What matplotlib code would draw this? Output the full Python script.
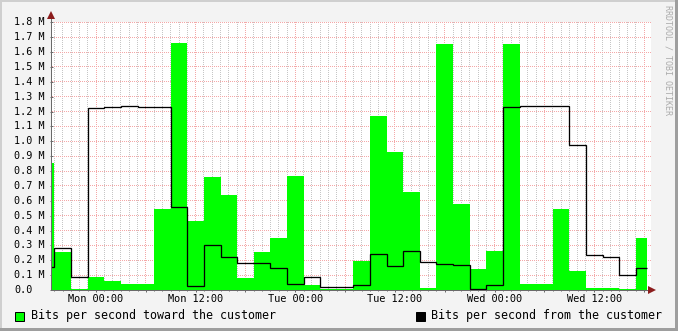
import numpy as np
import matplotlib
matplotlib.use("Agg")
import matplotlib.pyplot as plt
from matplotlib.patches import Rectangle
import matplotlib.transforms as mtransforms

# ---------------- data (hours relative to Mon 00:00, values in Mbit/s) ----------------
data_start_h = -5.455
first_full_bin_h = -5
bin_step_h = 2
data_end_h = 66.38

toward_customer = [0.856, 0.258, 0.006, 0.087, 0.061, 0.040, 0.040, 0.545, 1.661,
                   0.464, 0.760, 0.639, 0.081, 0.256, 0.350, 0.767, 0.034, 0.005,
                   0.005, 0.195, 1.170, 0.928, 0.659, 0.016, 1.654, 0.578, 0.141,
                   0.262, 1.654, 0.040, 0.040, 0.545, 0.128, 0.016, 0.016, 0.007,
                   0.350]
from_customer = [0.155, 0.280, 0.087, 1.222, 1.228, 1.235, 1.228, 1.228, 0.556,
                 0.027, 0.305, 0.220, 0.179, 0.179, 0.148, 0.038, 0.085, 0.018,
                 0.018, 0.031, 0.240, 0.159, 0.260, 0.186, 0.175, 0.166, 0.005,
                 0.031, 1.228, 1.235, 1.235, 1.235, 0.977, 0.238, 0.224, 0.103,
                 0.148]

x_tick_hours = [0, 12, 24, 36, 48, 60]
x_tick_labels = ["Mon 00:00", "Mon 12:00", "Tue 00:00", "Tue 12:00", "Wed 00:00", "Wed 12:00"]
y_tick_values = [0.0, 0.1, 0.2, 0.3, 0.4, 0.5, 0.6, 0.7, 0.8, 0.9,
                 1.0, 1.1, 1.2, 1.3, 1.4, 1.5, 1.6, 1.7, 1.8]
y_tick_labels = ["0.0", "0.1 M", "0.2 M", "0.3 M", "0.4 M", "0.5 M", "0.6 M", "0.7 M",
                 "0.8 M", "0.9 M", "1.0 M", "1.1 M", "1.2 M", "1.3 M", "1.4 M",
                 "1.5 M", "1.6 M", "1.7 M", "1.8 M"]
legend_labels = ["Bits per second toward the customer", "Bits per second from the customer"]
watermark = "RRDTOOL / TOBI OETIKER"

# ---------------- layout ----------------
W, H = 678, 331
DPI = 100
BG = "#f3f3f3"
GREEN = "#00ff00"
AXIS_C = "#6a6a6a"
ARROW_C = "#8b1c1c"
MINOR_RGB = (0.78, 0.78, 0.78)
MAJOR_RGB = (0.96, 0.66, 0.66)
MONO = "DejaVu Sans Mono"
PX = 72.0 / DPI  # points per pixel


def fx(x):
    return x / W


def fy(y):
    return 1 - y / H


fig = plt.figure(figsize=(W / DPI, H / DPI), dpi=DPI, facecolor=BG)

# outer 3D-ish frame
for (x0, y0, w, h, c) in [(0, fy(2), 1, 2 / H, "#cfcfcf"),
                          (0, 0, 2 / W, 1, "#cfcfcf"),
                          (0, 0, 1, 3 / H, "#9e9e9e"),
                          (fx(W - 3), 0, 3 / W, 1, "#9e9e9e")]:
    fig.patches.append(Rectangle((x0, y0), w, h, transform=fig.transFigure,
                                 facecolor=c, edgecolor="none", zorder=0))

left, right, top, bottom = 50.7, 650.0, 22.3, 290.0
ax = fig.add_axes([fx(left), fy(bottom), (right - left) / W, (bottom - top) / H])
ax.set_facecolor("none")
ax.set_zorder(1)
x_min, x_max = -5.455, 66.71
ax.set_xlim(x_min, x_max)
ax.set_ylim(0, 1.8)

# ---- white plot area + pixel-exact dotted grid as a figure image (under the axes) ----
hours = np.arange(np.ceil(x_min), x_max, 1)
minor_h = [h for h in hours if h % 6 != 0]
major_h = [h for h in hours if h % 6 == 0]

img = np.zeros((H, W, 4))
bb = ax.bbox
c0, c1 = int(np.ceil(bb.x0)), int(np.floor(bb.x1))
r0, r1 = int(np.ceil(bb.y0)), int(np.floor(bb.y1))
img[r0:r1 + 1, c0:c1 + 1] = (1, 1, 1, 1)


def vdots(h, rgb):
    col = int(np.floor(ax.transData.transform((h, 0))[0]))
    for r in range(r0 + 1, r1 + 1, 2):
        img[r, col, :3] = rgb


def hdots(v, rgb):
    row = int(np.floor(ax.transData.transform((0, v))[1]))
    for c in range(c0 + 1, c1 + 1, 2):
        img[row, c, :3] = rgb


for h in minor_h:
    vdots(h, MINOR_RGB)
for h in major_h:
    vdots(h, MAJOR_RGB)
for v in y_tick_values[1:]:
    hdots(v, MAJOR_RGB)
fig.figimage(img, xo=0, yo=0, origin="lower", zorder=0.5)

# ---- data ----
lw = PX
edges = np.concatenate([[data_start_h],
                        np.arange(first_full_bin_h, data_end_h - 1e-9, bin_step_h),
                        [data_end_h]])
ax.stairs(toward_customer, edges, fill=True, color=GREEN, zorder=2, baseline=0)
ax.stairs(from_customer, edges, fill=False, baseline=None, color="black",
          linewidth=1.3 * PX, zorder=3)

# axes lines / ticks
for s in ["top", "right"]:
    ax.spines[s].set_visible(False)
for s in ["left", "bottom"]:
    ax.spines[s].set_color(AXIS_C)
    ax.spines[s].set_linewidth(lw)
    ax.spines[s].set_zorder(4)
ax.set_xticks(major_h)
ax.set_xticks(minor_h, minor=True)
ax.set_yticks(y_tick_values)
ax.tick_params(axis="x", which="major", length=3 * PX, width=lw, color=AXIS_C,
               labelbottom=False, direction="inout")
ax.tick_params(axis="x", which="minor", length=2 * PX, width=lw, color=AXIS_C,
               direction="inout")
ax.tick_params(axis="y", which="major", length=3 * PX, width=lw, color=AXIS_C,
               labelleft=False, direction="inout")

# axis extension and arrows
ax.add_line(plt.Line2D([0, 0], [1, 1.02], transform=ax.transAxes, color=AXIS_C,
                       lw=lw, clip_on=False))
off_up = mtransforms.offset_copy(ax.transAxes, fig=fig, x=0, y=7 * PX, units="points")
ax.plot([0], [1], marker="^", markersize=6, color=ARROW_C, transform=off_up,
        clip_on=False, zorder=6, markeredgewidth=0)
off_right = mtransforms.offset_copy(ax.transAxes, fig=fig, x=2 * PX, y=0, units="points")
ax.plot([1], [0], marker=">", markersize=6, color=ARROW_C, transform=off_right,
        clip_on=False, zorder=6, markeredgewidth=0)

# tick labels
ylab_tr = mtransforms.blended_transform_factory(fig.transFigure, ax.transData)
for v, lab in zip(y_tick_values, y_tick_labels):
    ax.text(fx(14), v, lab, transform=ylab_tr, ha="left", va="center",
            family=MONO, fontsize=7.3, color="black", clip_on=False)

xlab_tr = mtransforms.blended_transform_factory(ax.transData, fig.transFigure)
for h, lab in zip(x_tick_hours, x_tick_labels):
    ax.text(h, fy(299.5), lab, transform=xlab_tr, ha="center", va="center",
            family=MONO, fontsize=7.4, color="black", clip_on=False)

# legend
fig.patches.append(Rectangle((fx(15), fy(320.5)), 9 / W, 9 / H, transform=fig.transFigure,
                             facecolor=GREEN, edgecolor="black", linewidth=lw, zorder=5))
fig.text(fx(30.5), fy(315.5), legend_labels[0], ha="left", va="center", family=MONO,
         fontsize=8.4, color="black")
fig.patches.append(Rectangle((fx(416), fy(320.5)), 9 / W, 9 / H, transform=fig.transFigure,
                             facecolor="black", edgecolor="black", linewidth=lw, zorder=5))
fig.text(fx(431), fy(315.5), legend_labels[1], ha="left", va="center", family=MONO,
         fontsize=8.4, color="black")

# watermark
fig.text(fx(668), fy(5), watermark, ha="center", va="top", rotation=270, family=MONO,
         fontsize=6.0, color="#ababab")

fig.savefig("out.png", dpi=DPI, facecolor=BG)
